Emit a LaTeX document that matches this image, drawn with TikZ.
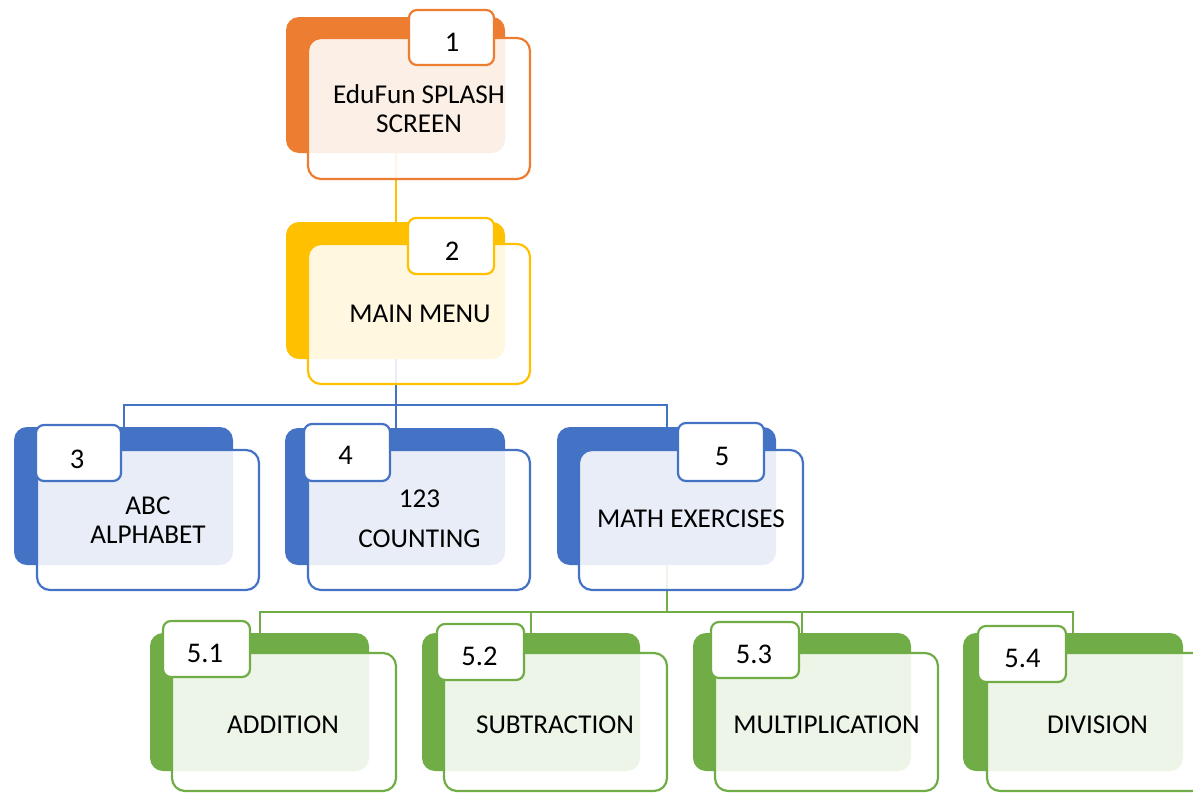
\documentclass[tikz,border=0pt]{standalone}
\usepackage{fontspec}
\setmainfont{Carlito}
\usetikzlibrary{fit,backgrounds}
\definecolor{accOrange}{HTML}{ED7D31}
\definecolor{accGold}{HTML}{FFC000}
\definecolor{accBlue}{HTML}{4472C4}
\definecolor{accGreen}{HTML}{70AD47}
\tikzset{
  back/.style={rounded corners=13pt, inner sep=0pt, outer sep=0pt, fill=#1, draw=none},
  panel/.style={rounded corners=13pt, inner sep=0pt, outer sep=0pt, draw=#1, line width=2.2pt, fill=white, fill opacity=0.88},
  tag/.style={rounded corners=8pt, inner sep=0pt, outer sep=0pt, draw=#1, line width=2.2pt, fill=white},
  txt/.style={font=\fontsize{27.2}{29}\selectfont, align=center, inner sep=0pt, text=black},
  numtxt/.style={font=\fontsize{28.5}{30}\selectfont, inner sep=0pt, text=black},
  link/.style={draw=#1, line width=2pt},
}
\begin{document}
\begin{tikzpicture}[x=1pt,y=-1pt]
\useasboundingbox (0,0) rectangle (1193,793);

% level 1: splash screen
\node[back=accOrange, fit={(286,17)(505,153)}] (d1) {};
\node[panel=accOrange, fit={(308,38)(530,179)}] (p1) {};
\node[tag=accOrange, fit={(409,10)(494,65)}] (g1) {};
\node[numtxt] (n1) at (452,42.5) {1};
\node[txt] (t1) at (419,108.5) {EduFun SPLASH\\SCREEN};

% level 2: main menu
\node[back=accGold, fit={(286,222)(505,359)}] (d2) {};
\node[panel=accGold, fit={(308,244)(530,384)}] (p2) {};
\node[tag=accGold, fit={(408,218)(494,274)}] (g2) {};
\node[numtxt] (n2) at (452,251) {2};
\node[txt] (t2) at (420,314) {MAIN MENU};

% level 3: menu entries
\node[back=accBlue, fit={(14,427)(233,565)}] (d3) {};
\node[panel=accBlue, fit={(37,450)(259,590)}] (p3) {};
\node[tag=accBlue, fit={(36,425)(121,481)}] (g3) {};
\node[numtxt] (n3) at (77,459) {3};
\node[txt] (t3) at (148,520) {ABC\\ALPHABET};

\node[back=accBlue, fit={(285,428)(505,565)}] (d4) {};
\node[panel=accBlue, fit={(308,450)(530,590)}] (p4) {};
\node[tag=accBlue, fit={(304,424)(390,481)}] (g4) {};
\node[numtxt] (n4) at (345.5,455.5) {4};
\node[txt] (t4) at (419.5,518.5) {123\\[11pt]COUNTING};

\node[back=accBlue, fit={(557,427)(776,565)}] (d5) {};
\node[panel=accBlue, fit={(579,450)(803,590)}] (p5) {};
\node[tag=accBlue, fit={(678,423)(764,481)}] (g5) {};
\node[numtxt] (n5) at (722,456.5) {5};
\node[txt] (t5) at (691,518.5) {MATH EXERCISES};

% level 4: math exercises
\node[back=accGreen, fit={(150,633)(369,771)}] (d51) {};
\node[panel=accGreen, fit={(172,653)(396,791)}] (p51) {};
\node[tag=accGreen, fit={(163,621)(250,677)}] (g51) {};
\node[numtxt] (n51) at (205,653) {5.1};
\node[txt] (t51) at (283,725) {ADDITION};

\node[back=accGreen, fit={(422,633)(640,771)}] (d52) {};
\node[panel=accGreen, fit={(444,653)(667,791)}] (p52) {};
\node[tag=accGreen, fit={(437,624)(524,680)}] (g52) {};
\node[numtxt] (n52) at (479.5,656) {5.2};
\node[txt] (t52) at (555,725) {SUBTRACTION};

\node[back=accGreen, fit={(693,633)(911,771)}] (d53) {};
\node[panel=accGreen, fit={(715,653)(938,791)}] (p53) {};
\node[tag=accGreen, fit={(711,622)(799,678)}] (g53) {};
\node[numtxt] (n53) at (754,654.5) {5.3};
\node[txt] (t53) at (826.5,725) {MULTIPLICATION};

\node[back=accGreen, fit={(963,633)(1183,771)}] (d54) {};
\node[panel=accGreen, fit={(987,653)(1210,791)}] (p54) {};
\node[tag=accGreen, fit={(978,626)(1066,682)}] (g54) {};
\node[numtxt] (n54) at (1022.5,658.5) {5.4};
\node[txt] (t54) at (1097.5,725) {DIVISION};

% connectors, behind the boxes
\begin{scope}[on background layer]
  \draw[link=accGold] (d1.south) -- (d1.south |- d2.north);
  \draw[link=accBlue] (d2.south) -- (d2.south |- d4.north);
  \draw[link=accBlue] (d3.north) -- ++(0,-22) -| (d5.north);
  \draw[link=accGreen] (d5.south) -- ++(0,47);
  \draw[link=accGreen] (d51.north) -- ++(0,-21) -| (d54.north);
  \draw[link=accGreen] (d52.north) -- ++(0,-21);
  \draw[link=accGreen] (d53.north) -- ++(0,-21);
\end{scope}
\end{tikzpicture}
\end{document}
